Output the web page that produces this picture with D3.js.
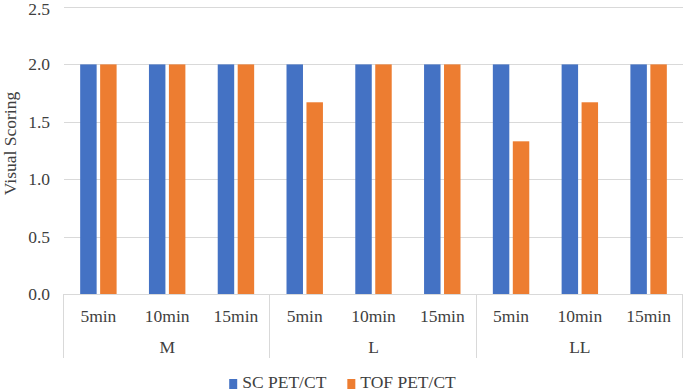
<!DOCTYPE html>
<html>
<head>
<meta charset="utf-8">
<script src="https://cdn.jsdelivr.net/npm/d3@7"></script>
<style>
  body { margin: 0; background: #fff; }
</style>
</head>
<body>
<div id="chart"></div>
<script>
const groups = ["M", "L", "LL"];
const times = ["5min", "10min", "15min"];
const series = ["SC PET/CT", "TOF PET/CT"];
const colors = ["#4472C4", "#ED7D31"];
const scValues = [2, 2, 2, 2, 2, 2, 2, 2, 2];
const tofValues = [2, 2, 2, 1.67, 2, 2, 1.33, 1.67, 2];
const yTicks = [0, 0.5, 1.0, 1.5, 2.0, 2.5];

const width = 685, height = 391;
const margin = { top: 7, right: 2, bottom: 97, left: 64 };
const fontSize = "17.5px";
const fontFamily = "\"Liberation Serif\"";
const textColor = "#404040";

const svg = d3.select("#chart")
  .append("svg")
    .attr("width", width)
    .attr("height", height);

// apply the text look inline so nothing else overrides it
function styleText(sel) {
  return sel
    .style("font-family", fontFamily)
    .style("font-size", fontSize)
    .style("fill", textColor);
}

// one row per group/time pair
const rows = [];
groups.forEach((g, gi) => {
  times.forEach((t, ti) => {
    const i = gi * times.length + ti;
    rows.push({ key: g + "-" + t, group: g, time: t, values: [scValues[i], tofValues[i]] });
  });
});

const x0 = d3.scaleBand()
  .domain(rows.map(d => d.key))
  .range([margin.left, width - margin.right]);

const x1 = d3.scaleBand()
  .domain(series)
  .range([0, x0.bandwidth()])
  .paddingInner(0.175)
  .paddingOuter(0.81);

const y = d3.scaleLinear()
  .domain([0, 2.5])
  .range([height - margin.bottom, margin.top]);

// gridlines
svg.append("g")
  .selectAll("line")
  .data(yTicks)
  .join("line")
    .attr("x1", margin.left)
    .attr("x2", width - margin.right)
    .attr("y1", d => Math.round(y(d)) + 0.5)
    .attr("y2", d => Math.round(y(d)) + 0.5)
    .attr("stroke", "#d9d9d9")
    .attr("stroke-width", 1);

// y tick labels (top one nudged down so it stays inside the picture)
svg.append("g")
  .selectAll("text")
  .data(yTicks)
  .join("text")
    .attr("x", 50)
    .attr("y", d => Math.max(y(d), 9.5))
    .attr("dy", "0.34em")
    .attr("text-anchor", "end")
    .call(styleText)
    .text(d => d3.format(".1f")(d));

// y axis title
svg.append("text")
  .attr("transform", `translate(16,${(margin.top + height - margin.bottom) / 2 - 7}) rotate(-90)`)
  .attr("text-anchor", "middle")
  .call(styleText)
  .text("Visual Scoring");

// bars
const barG = svg.append("g")
  .selectAll("g")
  .data(rows)
  .join("g")
    .attr("transform", d => `translate(${x0(d.key)},0)`);

barG.selectAll("rect")
  .data(d => d.values.map((v, i) => ({ series: series[i], value: v, color: colors[i] })))
  .join("rect")
    .attr("x", d => x1(d.series))
    .attr("width", x1.bandwidth())
    .attr("y", d => y(d.value))
    .attr("height", d => y(0) - y(d.value))
    .attr("fill", d => d.color);

// category labels
svg.append("g")
  .selectAll("text")
  .data(rows)
  .join("text")
    .attr("x", d => x0(d.key) + x0.bandwidth() / 2)
    .attr("y", 322)
    .attr("text-anchor", "middle")
    .call(styleText)
    .text(d => d.time);

// group labels and dividers
const step = x0.step();
const dividers = d3.range(groups.length + 1).map(i => margin.left + i * times.length * step);
svg.append("g")
  .selectAll("line")
  .data(dividers)
  .join("line")
    .attr("x1", d => Math.round(d) - 0.5)
    .attr("x2", d => Math.round(d) - 0.5)
    .attr("y1", y(0))
    .attr("y2", 358)
    .attr("stroke", "#d9d9d9");

svg.append("g")
  .selectAll("text")
  .data(groups)
  .join("text")
    .attr("x", (d, i) => margin.left + (i + 0.5) * times.length * step)
    .attr("y", 353)
    .attr("text-anchor", "middle")
    .call(styleText)
    .text(d => d);

// legend
const legend = svg.append("g");
const items = legend.selectAll("g")
  .data(series)
  .join("g");
items.append("rect")
  .attr("width", 8)
  .attr("height", 10)
  .attr("y", 379)
  .attr("fill", (d, i) => colors[i]);
items.append("text")
  .attr("x", 13)
  .attr("y", 388)
  .call(styleText)
  .text(d => d);

let offset = 0;
const widths = [];
items.each(function () {
  widths.push(13 + d3.select(this).select("text").node().getComputedTextLength());
});
const gap = 21;
const total = d3.sum(widths) + gap * (widths.length - 1);
const start = width / 2 - total / 2;
items.attr("transform", (d, i) => {
  const tx = start + offset;
  offset += widths[i] + gap;
  return `translate(${tx},0)`;
});
</script>
</body>
</html>
